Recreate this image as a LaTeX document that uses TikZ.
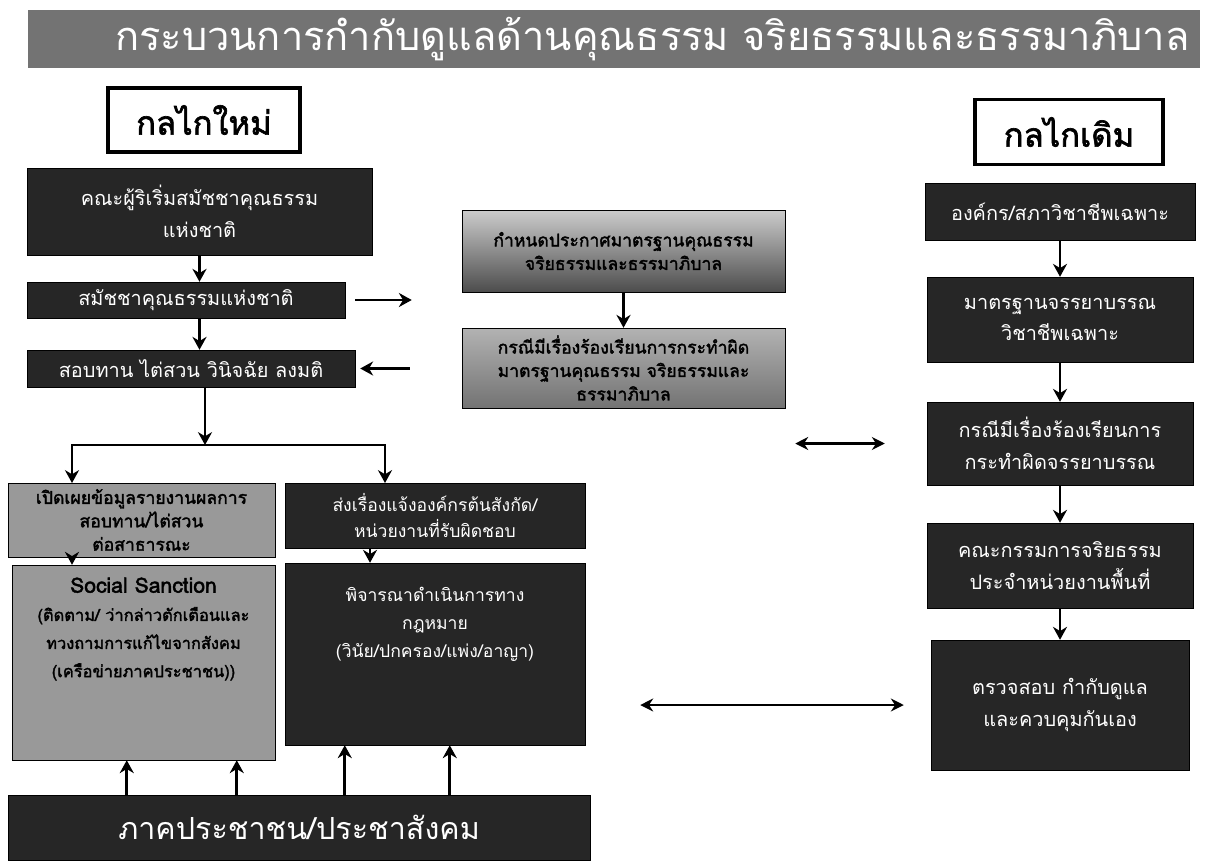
\documentclass[tikz,border=0pt]{standalone}
\usepackage{fontspec}
\newfontfamily\thaifont[Script=Thai, AutoFakeBold=2]{Loma}
\usetikzlibrary{arrows.meta,positioning,calc}
\tikzset{
    dark/.style={draw=black, fill=black!85, text=white, align=center, inner sep=0pt, font=\thaifont\fontsize{17}{27}\selectfont},
    grey/.style={draw=black, fill=black!40, text=black, align=center, inner sep=0pt, font=\thaifont\bfseries\fontsize{15}{20}\selectfont},
    head/.style={draw=black, line width=3pt, fill=white, inner sep=0pt, font=\thaifont\bfseries\fontsize{28}{32}\selectfont},
    arr/.style={-{Stealth[length=11pt,width=12pt]}, line width=2.2pt},
    darr/.style={{Stealth[length=11pt,width=11pt]}-{Stealth[length=11pt,width=11pt]}, line width=1.8pt}
}
\begin{document}
\begin{tikzpicture}[x=0.03cm, y=-0.03cm]
\useasboundingbox (0,0) rectangle (1216,864);
\node[fill=black!55, text=white, minimum width=35.16cm, minimum height=1.74cm, inner sep=0pt, font=\thaifont\fontsize{34}{38}\selectfont] (0) at (614,39) {\hspace*{2.3cm}กระบวนการกำกับดูแลด้านคุณธรรม จริยธรรมและธรรมาภิบาล};
\node[head, minimum width=5.76cm, minimum height=1.92cm] (1) at (204,120) {กลไกใหม่};
\node[head, minimum width=5.64cm, minimum height=1.95cm] (2) at (1069,132) {กลไกเดิม};
\node[dark, minimum width=10.35cm, minimum height=2.61cm] (3) at (199.5,211.5) {คณะผู้ริเริ่มสมัชชาคุณธรรม\\แห่งชาติ};
\node[dark, minimum width=9.54cm, minimum height=1.08cm] (4) at (186,300) {สมัชชาคุณธรรมแห่งชาติ};
\node[dark, minimum width=9.84cm, minimum height=1.11cm] (5) at (191,368.5) {สอบทาน ไต่สวน วินิจฉัย ลงมติ};
\node[grey, minimum width=8.01cm, minimum height=2.22cm] (6) at (141.5,520) {เปิดเผยข้อมูลรายงานผลการ\\สอบทาน/ไต่สวน\\ต่อสาธารณะ};
\node[dark, minimum width=9cm, minimum height=1.95cm, font=\thaifont\fontsize{15}{22}\selectfont] (7) at (435,515.5) {ส่งเรื่องแจ้งองค์กรต้นสังกัด/\\หน่วยงานที่รับผิดชอบ};
\node[grey, minimum width=7.89cm, minimum height=5.85cm, font=\thaifont\bfseries\fontsize{14}{24}\selectfont] (8) at (143.5,662.5) {{\fontsize{18}{24}\selectfont Social Sanction}\\(ติดตาม/ ว่ากล่าวตักเตือนและ\\ทวงถามการแก้ไขจากสังคม\\(เครือข่ายภาคประชาชน))\\[36pt]};
\node[dark, minimum width=9cm, minimum height=5.46cm, font=\thaifont\fontsize{15}{24}\selectfont] (9) at (435,654) {พิจารณาดำเนินการทาง\\กฎหมาย\\(วินัย/ปกครอง/แพ่ง/อาญา)\\[30pt]};
\node[dark, minimum width=17.46cm, minimum height=1.95cm, font=\thaifont\fontsize{26}{30}\selectfont] (10) at (299,827.5) {ภาคประชาชน/ประชาสังคม};
\node[grey, top color=black!20, bottom color=black!70, minimum width=9.69cm, minimum height=2.46cm] (11) at (623.5,251) {กำหนดประกาศมาตรฐานคุณธรรม\\จริยธรรมและธรรมาภิบาล};
\node[grey, top color=black!30, bottom color=black!55, minimum width=9.69cm, minimum height=2.4cm] (12) at (623.5,368) {กรณีมีเรื่องร้องเรียนการกระทำผิด\\มาตรฐานคุณธรรม จริยธรรมและ\\ธรรมาภิบาล};
\node[dark, minimum width=8.1cm, minimum height=1.71cm] (13) at (1060,211.5) {องค์กร/สภาวิชาชีพเฉพาะ};
\node[dark, minimum width=7.98cm, minimum height=2.55cm] (14) at (1060,319.5) {มาตรฐานจรรยาบรรณ\\วิชาชีพเฉพาะ};
\node[dark, minimum width=7.98cm, minimum height=2.49cm] (15) at (1060,443.5) {กรณีมีเรื่องร้องเรียนการ\\กระทำผิดจรรยาบรรณ};
\node[dark, minimum width=7.98cm, minimum height=2.55cm] (16) at (1060,565.5) {คณะกรรมการจริยธรรม\\ประจำหน่วยงานพื้นที่};
\node[dark, minimum width=7.74cm, minimum height=3.9cm] (17) at (1060,705) {ตรวจสอบ กำกับดูแล\\และควบคุมกันเอง};
\coordinate (s) at (205,445);
\coordinate (sl) at (72,483);
\coordinate (sr) at (385,483);
\draw[arr] (3) -- (3 |- 4.north);
\draw[arr] (4.south -| 3) -- (3 |- 5.north);
\draw[arr] (5.south -| s) -- (s);
\draw[arr] (s) -| (sl);
\draw[arr] (s) -| (sr);
\draw[arr] (6.south -| sl) -- (8.north -| sl);
\draw[arr] ([xshift=-1.95cm]7.south) -- ([xshift=-1.95cm]9.north);
\foreach \d/\n in {3.57/8,6.87/8,10.11/9,13.26/9}
    \draw[arr] ([xshift=\d cm]10.north west) -- ([xshift=\d cm]10.north west |- \n.south);
\draw[arr, shorten <=0.3cm, shorten >=1.5cm] (4) -- (4 -| 11.west);
\draw[arr] (11) -- (12);
\draw[arr, shorten <=1.56cm, shorten >=0.15cm] (12.west |- 5) -- (5);
\draw[darr, shorten <=0.3cm, shorten >=1.26cm] (12.east |- 15) -- (15);
\draw[darr, shorten <=1.65cm, shorten >=0.81cm] (9.east |- 17) -- (17);
\draw[arr] (13) -- (14);
\draw[arr] (14) -- (15);
\draw[arr] (15) -- (16);
\draw[arr] (16) -- (17);
\end{tikzpicture}
\end{document}
